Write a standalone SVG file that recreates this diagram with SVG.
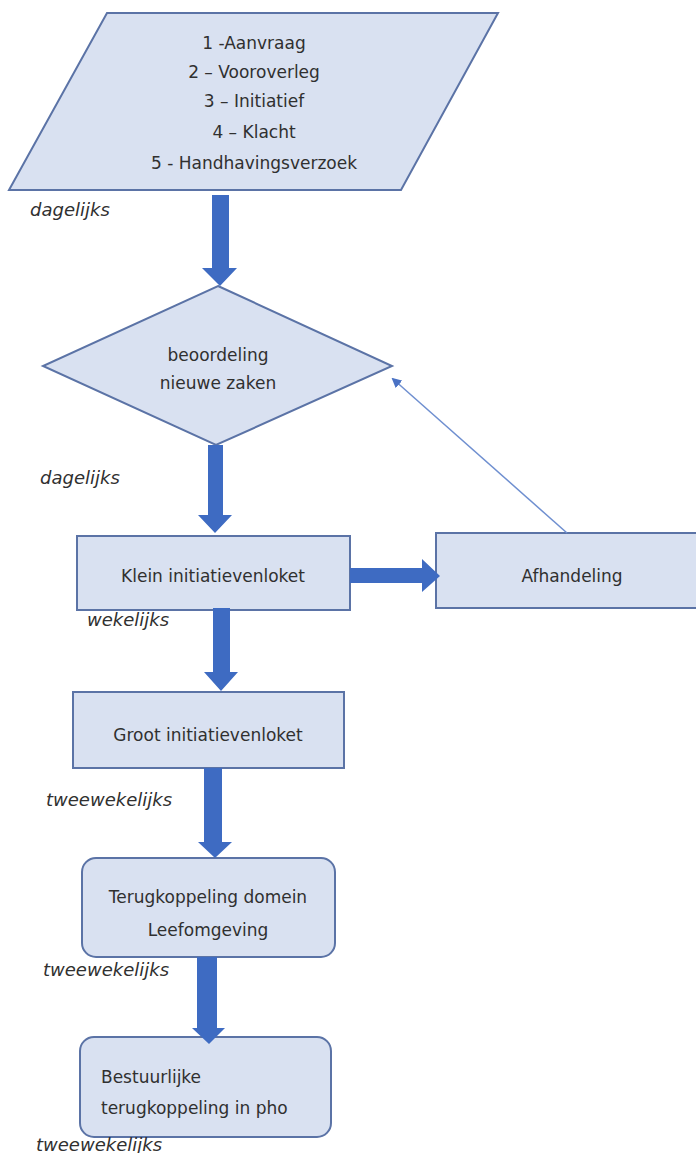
<svg xmlns="http://www.w3.org/2000/svg" width="696" height="1153" viewBox="0 0 696 1153">
<defs>
<style>
.shape{fill:#d9e1f1;stroke:#5b73a6;stroke-width:2}
.t{font-family:"DejaVu Sans",Verdana,sans-serif;font-size:17px;fill:#303030;text-anchor:middle}
.tl{font-family:"DejaVu Sans",Verdana,sans-serif;font-size:17px;fill:#303030}
.lbl{font-family:"DejaVu Sans",Verdana,sans-serif;font-size:18px;font-style:italic;fill:#303030}
.big{fill:#3e6bc2}
.thin{stroke:#6f8fd0;stroke-width:1.5;fill:none}
</style>
<marker id="ah" markerWidth="10" markerHeight="10" refX="8" refY="5" orient="auto" markerUnits="userSpaceOnUse">
<path d="M0,0 L10,5 L0,10 Z" fill="#4a72c4"/>
</marker>
</defs>
<rect width="696" height="1153" fill="#fff"/>
<g id="input">
<polygon class="shape" points="107,13 498,13 401,190 9,190"/>
<text class="t" x="254" y="49">1 -Aanvraag</text>
<text class="t" x="254" y="78">2 – Vooroverleg</text>
<text class="t" x="254" y="107">3 – Initiatief</text>
<text class="t" x="254" y="138">4 – Klacht</text>
<text class="t" x="254" y="169">5 - Handhavingsverzoek</text>
</g>
<g id="beoordeling">
<polygon class="shape" points="218,286 392,366 216,445 43,366"/>
<text class="t" x="218" y="361">beoordeling</text>
<text class="t" x="218" y="389">nieuwe zaken</text>
</g>
<g id="klein">
<rect class="shape" x="77" y="536" width="273" height="74"/>
<text class="t" x="213" y="582">Klein initiatievenloket</text>
</g>
<g id="afhandeling">
<rect class="shape" x="436" y="533" width="270" height="75"/>
<text class="t" x="572" y="582">Afhandeling</text>
</g>
<g id="groot">
<rect class="shape" x="73" y="692" width="271" height="76"/>
<text class="t" x="208" y="741">Groot initiatievenloket</text>
</g>
<g id="terugkoppeling">
<rect class="shape" x="82" y="858" width="253" height="99" rx="14"/>
<text class="t" x="208" y="903">Terugkoppeling domein</text>
<text class="t" x="208" y="936">Leefomgeving</text>
</g>
<g id="bestuurlijke">
<rect class="shape" x="80" y="1037" width="251" height="100" rx="14"/>
<text class="tl" x="101" y="1083">Bestuurlijke</text>
<text class="tl" x="101" y="1114">terugkoppeling in pho</text>
</g>
<g id="labels">
<text class="lbl" x="30" y="216">dagelijks</text>
<text class="lbl" x="40" y="484">dagelijks</text>
<text class="lbl" x="87" y="626">wekelijks</text>
<text class="lbl" x="46" y="806">tweewekelijks</text>
<text class="lbl" x="43" y="976">tweewekelijks</text>
<text class="lbl" x="36" y="1151">tweewekelijks</text>
</g>
<g id="connectors">
<polygon class="big" points="212,195 229,195 229,268 237,268 220,286 202,268 212,268"/>
<polygon class="big" points="208,445 223,445 223,515 232,515 215,533 198,515 208,515"/>
<polygon class="big" points="350,568 422,568 422,559 440,576 422,592 422,583 350,583"/>
<polygon class="big" points="213,608 230,608 230,672 238,672 221,691 204,672 213,672"/>
<polygon class="big" points="204,768 222,768 222,842 232,842 215,858 198,842 204,842"/>
<polygon class="big" points="197,957 217,957 217,1028 225,1028 209,1044 192,1028 197,1028"/>
<line class="thin" x1="567" y1="533" x2="393" y2="379" marker-end="url(#ah)"/>
</g>
</svg>
